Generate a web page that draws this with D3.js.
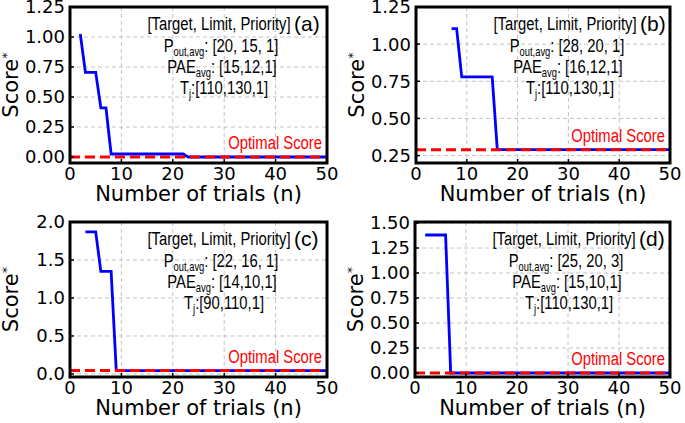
<!DOCTYPE html>
<html>
<head>
<meta charset="utf-8">
<script src="https://cdn.jsdelivr.net/npm/d3@7"></script>
<style>
  body { margin: 0; background: #fff; }
  .tick-label { font-family: "DejaVu Sans", sans-serif; font-size: 18px; fill: #000; }
  .axis-title { font-family: "DejaVu Sans", sans-serif; font-size: 21px; fill: #000; }
  .note { font-family: "Liberation Sans", Arial, sans-serif; font-size: 19px; fill: #000; }
  .tag { font-family: "Liberation Sans", Arial, sans-serif; font-size: 21px; fill: #000; }
  .opt { font-family: "Liberation Sans", Arial, sans-serif; font-size: 19px; fill: #ff0000; }
</style>
</head>
<body>
<div id="chart"></div>
<script>
// best score so far vs. trial number (change points only)
const trialsA = [2, 3, 5, 6, 7, 8, 22, 23, 50];
const scoreA  = [1.025, 0.705, 0.705, 0.41, 0.41, 0.025, 0.025, 0.0, 0.0];
const trialsB = [7, 8, 9, 15, 16, 50];
const scoreB  = [1.105, 1.105, 0.78, 0.78, 0.29, 0.29];
const trialsC = [3, 5, 6, 8, 9, 50];
const scoreC  = [1.87, 1.87, 1.35, 1.35, 0.045, 0.045];
const trialsD = [2, 6, 7, 50];
const scoreD  = [1.38, 1.38, 0.0, 0.0];

const optimal = [0.0, 0.29, 0.045, 0.0];
const tags = ["(a)", "(b)", "(c)", "(d)"];
const poutSpec = ["[20, 15, 1]", "[28, 20, 1]", "[22, 16, 1]", "[25, 20, 3]"];
const paeSpec  = ["[15,12,1]", "[16,12,1]", "[14,10,1]", "[15,10,1]"];
const tjSpec   = ["[110,130,1]", "[110,130,1]", "[90,110,1]", "[110,130,1]"];

const xTicks = [0, 10, 20, 30, 40, 50];
const yTicksA = [0, 0.25, 0.5, 0.75, 1.0, 1.25];
const yTicksB = [0.25, 0.5, 0.75, 1.0, 1.25];
const yTicksC = [0, 0.5, 1.0, 1.5, 2.0];
const yTicksD = [0, 0.25, 0.5, 0.75, 1.0, 1.25, 1.5];

const width = 685, height = 423;
const narrow = 0.78;  // squeeze Liberation Sans to look like Arial Narrow

const svg = d3.select("#chart").append("svg")
    .attr("width", width)
    .attr("height", height);

// panel boxes in pixels, y domain and tick format for each panel
const panels = [
    {box: [70, 7, 327, 163],   yDom: [-0.05, 1.25], trials: trialsA, score: scoreA, yTicks: yTicksA, fmt: ".2f"},
    {box: [416, 7, 670, 163],  yDom: [0.2, 1.25],   trials: trialsB, score: scoreB, yTicks: yTicksB, fmt: ".2f"},
    {box: [70, 222, 327, 377], yDom: [-0.04, 2.0],  trials: trialsC, score: scoreC, yTicks: yTicksC, fmt: ".1f"},
    {box: [415, 222, 670, 377], yDom: [-0.04, 1.51], trials: trialsD, score: scoreD, yTicks: yTicksD, fmt: ".2f"}
];

function noteText(g, cls, x, y, anchor) {
    return g.append("text").attr("class", cls)
        .attr("transform", `translate(${x},${y}) scale(${narrow},1)`)
        .attr("text-anchor", anchor);
}

panels.forEach((p, i) => {
    const [x0, y0, x1, y1] = p.box;
    const x = d3.scaleLinear().domain([0, 50]).range([x0, x1]);
    const y = d3.scaleLinear().domain(p.yDom).range([y1, y0]);
    const g = svg.append("g");

    // dashed grid
    g.selectAll(".gx").data(xTicks.slice(1, -1)).enter().append("line")
        .attr("x1", d => x(d)).attr("x2", d => x(d))
        .attr("y1", y0).attr("y2", y1)
        .attr("stroke", "#c4c4c4").attr("stroke-width", 1).attr("stroke-dasharray", "4,3");
    g.selectAll(".gy").data(p.yTicks).enter().append("line")
        .attr("x1", x0).attr("x2", x1)
        .attr("y1", d => y(d)).attr("y2", d => y(d))
        .attr("stroke", "#c4c4c4").attr("stroke-width", 1).attr("stroke-dasharray", "4,3");

    // score curve
    const pts = p.trials.map((t, k) => [t, p.score[k]]);
    g.append("path")
        .datum(pts)
        .attr("fill", "none")
        .attr("stroke", "#0000ff")
        .attr("stroke-width", 2.8)
        .attr("d", d3.line().x(d => x(d[0])).y(d => y(d[1])));

    // optimal score line
    g.append("line")
        .attr("x1", x0).attr("x2", x1)
        .attr("y1", y(optimal[i])).attr("y2", y(optimal[i]))
        .attr("stroke", "#ff0000").attr("stroke-width", 3).attr("stroke-dasharray", "10,5");

    noteText(g, "opt", x1 - 5, y(optimal[i]) - 8, "end").text("Optimal Score");

    // inward ticks
    g.selectAll(".tx").data(xTicks).enter().append("line")
        .attr("x1", d => x(d)).attr("x2", d => x(d))
        .attr("y1", y1).attr("y2", y1 - 4)
        .attr("stroke", "#000").attr("stroke-width", 1.5);
    g.selectAll(".ty").data(p.yTicks).enter().append("line")
        .attr("x1", x0).attr("x2", x0 + 4)
        .attr("y1", d => y(d)).attr("y2", d => y(d))
        .attr("stroke", "#000").attr("stroke-width", 1.5);

    // frame
    g.append("rect")
        .attr("x", x0).attr("y", y0)
        .attr("width", x1 - x0).attr("height", y1 - y0)
        .attr("fill", "none").attr("stroke", "#000").attr("stroke-width", 3);

    // tick labels
    g.selectAll(".lx").data(xTicks).enter().append("text")
        .attr("class", "tick-label")
        .attr("x", d => x(d)).attr("y", y1 + 17)
        .attr("text-anchor", "middle")
        .text(d => d);
    g.selectAll(".ly").data(p.yTicks).enter().append("text")
        .attr("class", "tick-label")
        .attr("x", x0 - 5).attr("y", d => y(d))
        .attr("dy", "0.36em")
        .attr("text-anchor", "end")
        .text(d => d3.format(p.fmt)(d));

    // axis titles
    g.append("text").attr("class", "axis-title")
        .attr("x", (x0 + x1) / 2).attr("y", y1 + 38)
        .attr("text-anchor", "middle")
        .text("Number of trials (n)");
    const yt = g.append("text").attr("class", "axis-title")
        .attr("transform", `translate(${x0 - 52},${(y0 + y1) / 2}) rotate(-90)`)
        .attr("text-anchor", "middle");
    yt.append("tspan").text("Score");
    yt.append("tspan").attr("font-size", "13px").attr("dy", "-0.55em").text("*");

    // annotation block
    const cx = x0 + 149;
    noteText(g, "note", cx, y0 + 23, "middle").text("[Target, Limit, Priority]");
    g.append("text").attr("class", "tag")
        .attr("x", x0 + 224).attr("y", y0 + 24)
        .text(tags[i]);

    const l1 = noteText(g, "note", cx + 2, y0 + 45, "middle");
    l1.append("tspan").text("P");
    l1.append("tspan").attr("font-size", "12px").attr("dy", 4).text("out,avg");
    l1.append("tspan").attr("dy", -4).text(": " + poutSpec[i]);

    const l2 = noteText(g, "note", cx + 3, y0 + 66, "middle");
    l2.append("tspan").text("PAE");
    l2.append("tspan").attr("font-size", "12px").attr("dy", 4).text("avg");
    l2.append("tspan").attr("dy", -4).text(": " + paeSpec[i]);

    const l3 = noteText(g, "note", cx + 5, y0 + 87, "middle");
    l3.append("tspan").text("T");
    l3.append("tspan").attr("font-size", "12px").attr("dy", 4).text("j");
    l3.append("tspan").attr("dy", -4).text(":" + tjSpec[i]);
});
</script>
</body>
</html>
